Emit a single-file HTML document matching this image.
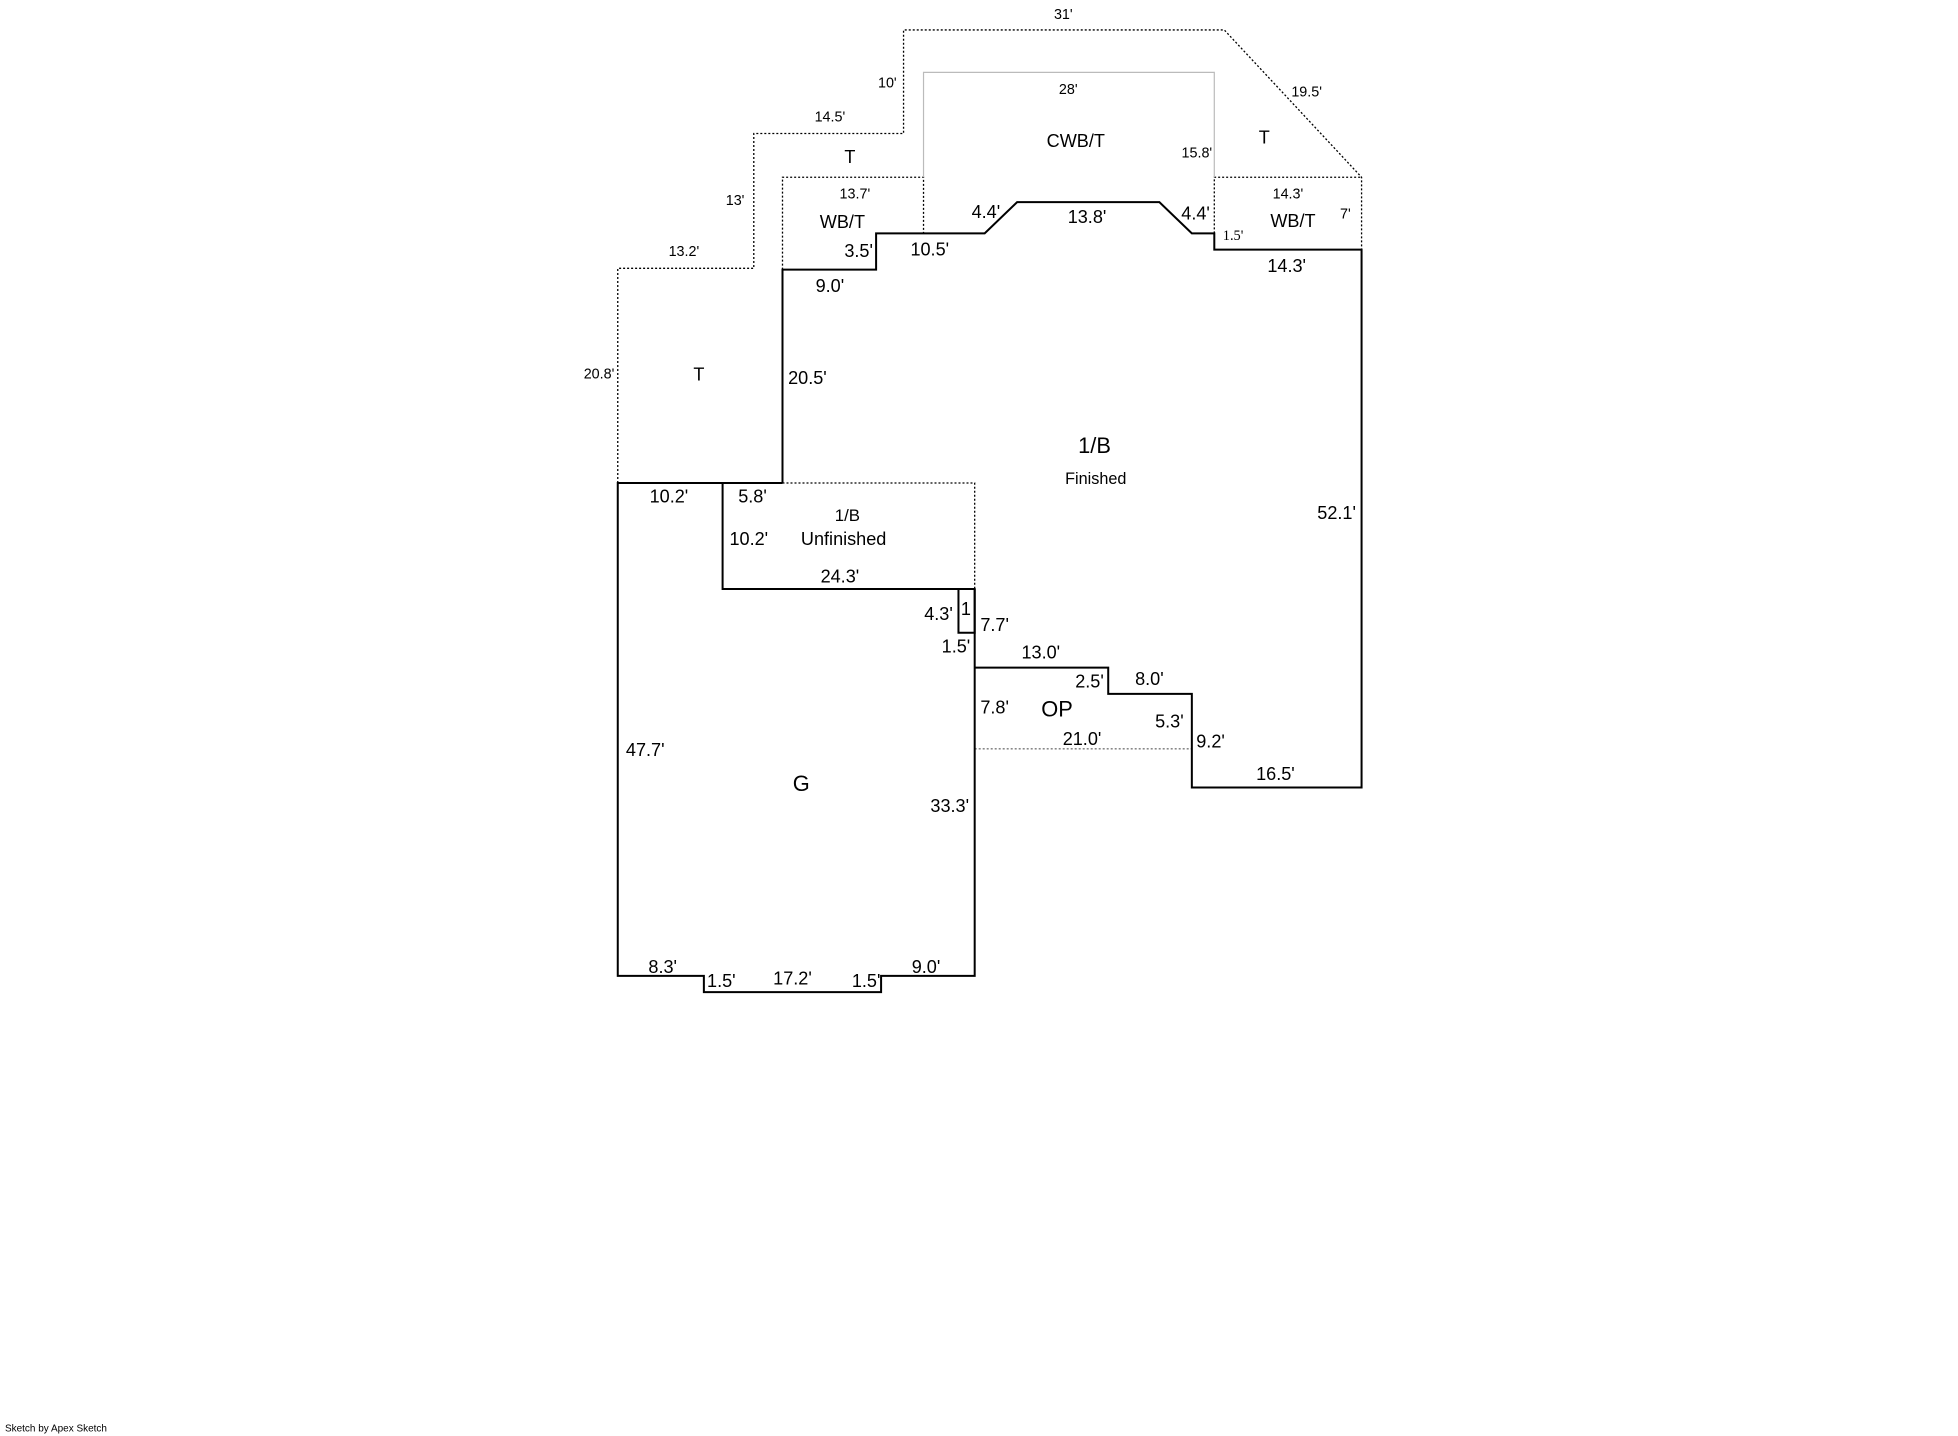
<!DOCTYPE html>
<html><head><meta charset="utf-8"><style>html,body{margin:0;padding:0;background:#fff;}svg{display:block}</style></head>
<body>
<svg width="1958" height="1436" viewBox="0 0 1958 1436" xmlns="http://www.w3.org/2000/svg">
<g transform="scale(1.248)" font-family="Liberation Sans, sans-serif" text-anchor="middle" dominant-baseline="central" fill="#000">
<g fill="none" stroke="#000" stroke-dasharray="2 2" stroke-width="1.3" vector-effect="non-scaling-stroke">
<polyline points="495,387 495,215 604,215 604,107 724,107 724,24 981,24 1091,142 1091,200" vector-effect="non-scaling-stroke"/>
<polyline points="627,216 627,142 740,142 740,187" vector-effect="non-scaling-stroke"/>
<polyline points="973,187 973,142 1091,142" vector-effect="non-scaling-stroke"/>
<polyline points="627,387 781,387 781,472" vector-effect="non-scaling-stroke"/>
<line x1="781" y1="600" x2="955" y2="600" stroke="#777" vector-effect="non-scaling-stroke"/>
</g>
<polyline points="740,142 740,58 973,58 973,142" fill="none" stroke="#bbb" stroke-width="1.2" vector-effect="non-scaling-stroke"/>
<g fill="none" stroke="#000" stroke-width="2" vector-effect="non-scaling-stroke">
<polyline points="627,387 627,216 702,216 702,187 789,187 815,162 929,162 955,187 973,187 973,200 1091,200 1091,631 955,631 955,556 888,556 888,535 781,535" vector-effect="non-scaling-stroke"/>
<polyline points="781,472 781,782 706,782 706,795 564,795 564,782 495,782 495,387 627,387" vector-effect="non-scaling-stroke"/>
<polyline points="579,387 579,472 781,472" vector-effect="non-scaling-stroke"/>
<rect x="768" y="472" width="13" height="35" vector-effect="non-scaling-stroke"/>
</g>
<g font-size="11.5">
<text x="852" y="12">31'</text><text x="711" y="67">10'</text><text x="665" y="94">14.5'</text>
<text x="1047" y="74">19.5'</text><text x="856" y="72">28'</text><text x="959" y="123">15.8'</text>
<text x="589" y="161">13'</text><text x="685" y="156">13.7'</text><text x="1032" y="156">14.3'</text>
<text x="1078" y="172">7'</text><text x="548" y="202">13.2'</text><text x="480" y="300">20.8'</text>
<text x="988" y="189" font-family="Liberation Serif, serif">1.5'</text>
<text x="878" y="384" font-size="13">Finished</text>
</g>
<g font-size="14.5">
<text x="862" y="113">CWB/T</text><text x="681" y="126">T</text><text x="1013" y="110">T</text>
<text x="675" y="178">WB/T</text><text x="1036" y="177">WB/T</text>
<text x="790" y="170">4.4'</text><text x="871" y="174">13.8'</text><text x="958" y="171">4.4'</text>
<text x="688" y="201">3.5'</text><text x="745" y="200">10.5'</text><text x="1031" y="213">14.3'</text>
<text x="665" y="229">9.0'</text><text x="560" y="300">T</text><text x="647" y="303">20.5'</text>
<text x="1071" y="411">52.1'</text><text x="536" y="398">10.2'</text><text x="603" y="398">5.8'</text>
<text x="679" y="413" font-size="13.5">1/B</text><text x="600" y="432">10.2'</text><text x="676" y="432">Unfinished</text>
<text x="673" y="462">24.3'</text><text x="752" y="492">4.3'</text><text x="774" y="488">1</text>
<text x="797" y="501">7.7'</text><text x="766" y="518">1.5'</text><text x="834" y="523">13.0'</text>
<text x="873" y="546">2.5'</text><text x="921" y="544">8.0'</text><text x="797" y="567">7.8'</text>
<text x="937" y="578">5.3'</text><text x="867" y="592">21.0'</text><text x="970" y="594">9.2'</text>
<text x="1022" y="620">16.5'</text><text x="517" y="601">47.7'</text><text x="761" y="646">33.3'</text>
<text x="531" y="775">8.3'</text><text x="578" y="786">1.5'</text><text x="635" y="784">17.2'</text>
<text x="694" y="786">1.5'</text><text x="742" y="775">9.0'</text>
</g>
<g font-size="17.5">
<text x="877" y="357">1/B</text><text x="847" y="568">OP</text><text x="642" y="628">G</text>
</g>
<text x="4" y="1145" font-size="8" text-anchor="start">Sketch by Apex Sketch</text>
</g>
</svg>
</body></html>
